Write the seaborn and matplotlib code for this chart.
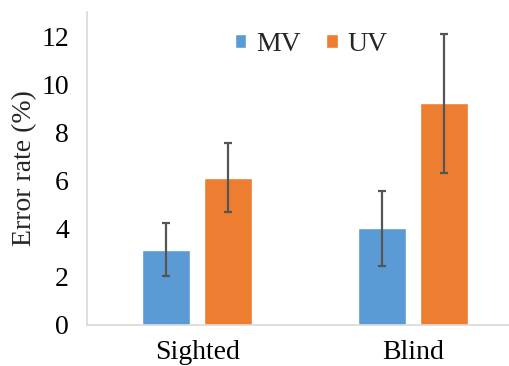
import pandas as pd
import numpy as np
import matplotlib
matplotlib.use("Agg")
import matplotlib.pyplot as plt
import seaborn as sns

# Data
groups = ['Sighted', 'Blind']
conditions = ['MV', 'UV']
mv_values = [3.12, 4.02]
uv_values = [6.12, 9.20]
mv_err = [1.10, 1.56]
uv_err = [1.44, 2.88]

df = pd.DataFrame({
    'Group': groups * 2,
    'Condition': ['MV'] * 2 + ['UV'] * 2,
    'Rate': mv_values + uv_values,
    'Err': mv_err + uv_err,
})

sns.set_theme(style="white")
plt.rcParams['font.family'] = ['Liberation Serif', 'DejaVu Serif']

fig = plt.figure(figsize=(5.10, 3.66), dpi=100)
ax = fig.add_axes([87 / 510, 41 / 366, (510 - 87) / 510, (325 - 12) / 366])

palette = {'MV': '#5B9BD5', 'UV': '#ED7D31'}
sns.barplot(data=df, x='Group', y='Rate', hue='Condition', order=groups,
            hue_order=conditions, palette=palette, width=0.57, gap=0.22,
            errorbar=None, saturation=1, ax=ax)

# error bars at the bar centres
for cont, cond in zip(ax.containers, conditions):
    sub = df[df['Condition'] == cond].set_index('Group').loc[groups]
    xs = [p.get_x() + p.get_width() / 2 for p in cont.patches]
    ax.errorbar(xs, sub['Rate'], yerr=sub['Err'], fmt='none',
                ecolor='#555555', elinewidth=1.6, capsize=3, capthick=1.6)

ax.set_ylim(0, 13)
ax.set_xlim(-0.51, 1.448)
ax.set_yticks(np.arange(0, 13, 2))
ax.tick_params(axis='y', direction='in', length=6, width=1, color='#d9d9d9',
               labelsize=20, pad=13)
ax.tick_params(axis='x', length=0, labelsize=20, pad=11)
for lab in ax.get_xticklabels() + ax.get_yticklabels():
    lab.set_color('black')

for s in ['top', 'right']:
    ax.spines[s].set_visible(False)
for s in ['left', 'bottom']:
    ax.spines[s].set_color('#d9d9d9')
    ax.spines[s].set_linewidth(1.2)

ax.set_xlabel('')
ax.set_ylabel('Error rate (%)', fontsize=20)
ax.yaxis.set_label_coords(-0.118, 0.5)

ax.legend(loc='center', bbox_to_anchor=(0.53, 0.895), ncol=2, frameon=False,
          fontsize=20, handlelength=0.4, handleheight=0.4, handletextpad=0.36,
          columnspacing=0.93, borderaxespad=0)

fig.savefig('out.png', dpi=100)
